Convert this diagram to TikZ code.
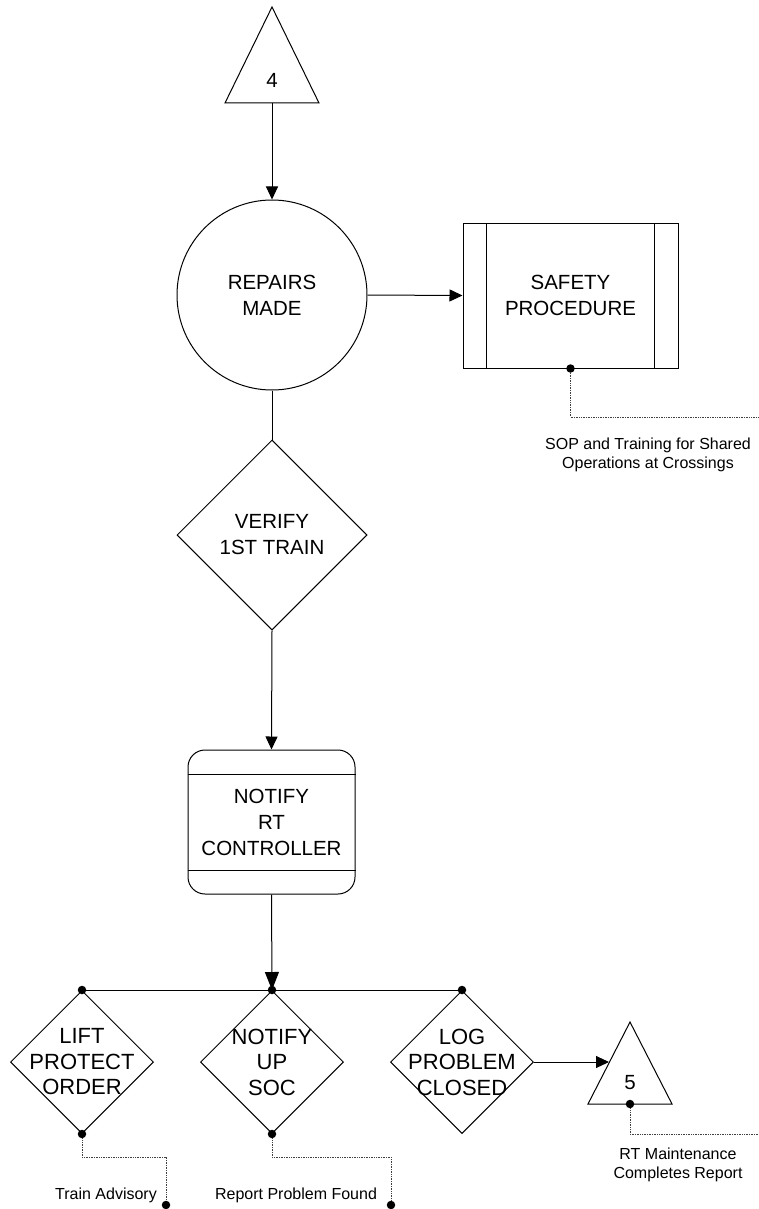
\documentclass[tikz,border=0pt]{standalone}
\usepackage{fontspec}
\setmainfont{Liberation Sans}
\usetikzlibrary{shapes.geometric,arrows.meta}
\begin{document}
\begin{tikzpicture}[x=1pt,y=-1pt,
  line/.style={line width=1pt},
  flow/.style={line width=1pt,-{Triangle[length=13pt,width=12pt]}},
  note/.style={black!75,line width=0.7pt,densely dotted},
  dot/.style={circle,fill,inner sep=0pt,minimum size=8.5pt},
  big/.style={font=\fontsize{20.5}{26}\selectfont,align=center},
  mid/.style={font=\fontsize{22}{25.5}\selectfont,align=center},
  small/.style={font=\fontsize{16}{19.5}\selectfont,align=center},
  dia/.style={draw,diamond,line width=1pt,inner sep=0pt,minimum width=#1,minimum height=#1},
]
\useasboundingbox (0,0) rectangle (759,1209);

% off-page connector 4
\draw[line] (225,103) -- (272,7) -- (319,103) -- cycle;
\node[big] (t4) at (272,80) {4};
\coordinate (t4base) at (272,103);

% repairs made
\node[draw,circle,line width=1pt,inner sep=0pt,minimum size=190,
      label={[big]center:REPAIRS\\MADE}] (repairs) at (272,295) {};
\draw[flow] (t4base) -- (repairs.north);

% safety procedure (predefined process)
\node[draw,line width=1pt,minimum width=215,minimum height=145,big] (safety) at (570.5,295.5) {SAFETY\\PROCEDURE};
\draw[line] ([xshift=24pt]safety.north west) -- ([xshift=24pt]safety.south west);
\draw[line] ([xshift=-24pt]safety.north east) -- ([xshift=-24pt]safety.south east);
\draw[flow] (repairs.east) -- (safety.west);
\node[dot] (sdot) at (safety.south) {};
\coordinate (sedge) at (759,417);
\draw[note] (sdot) |- (sedge);
\node[small] (sop) at (648,455) {SOP and Training for Shared\\Operations at Crossings};

% verify first train
\node[dia=190,label={[big]center:VERIFY\\1ST TRAIN}] (verify) at (272,535) {};
\draw[line] (repairs.south) -- (verify.north);

% notify RT controller
\node[draw,line width=1pt,rounded corners=17pt,minimum width=167,minimum height=144,big] (notify) at (271.5,822) {NOTIFY\\RT\\CONTROLLER};
\draw[line] ([yshift=-25pt]notify.north west) -- ([yshift=-25pt]notify.north east);
\draw[line] ([yshift=24pt]notify.south west) -- ([yshift=24pt]notify.south east);
\draw[flow] (verify.south) -- (notify.north);

% distribution bus
\node[dot] (b1) at (82,990) {};
\node[dot] (b2) at (272,990) {};
\node[dot] (b3) at (462,990) {};
\draw[line] (b1.center) -- (b3.center);
\draw[line width=1pt,-{Triangle[length=18pt,width=14pt]}] (notify.south) -- (b2.center);

% three parallel decisions
\node[dia=143,label={[mid]center:LIFT\\PROTECT\\ORDER}] (lift) at (82,1062) {};
\node[dia=143,label={[mid]center:NOTIFY\\UP\\SOC}] (soc) at (272,1062) {};
\node[dia=143,label={[mid]center:LOG\\PROBLEM\\CLOSED}] (log) at (462,1062) {};

% outputs of the decisions
\node[dot] (ldot) at (lift.south) {};
\coordinate (lbend) at (82,1157);
\node[dot] (lend) at (166,1205) {};
\draw[note] (ldot) -- (lbend) -| (lend);
\node[small,anchor=base] (adv) at (106,1199) {Train Advisory};

\node[dot] (sdot2) at (soc.south) {};
\coordinate (sbend) at (272,1157);
\node[dot] (send) at (391,1205) {};
\draw[note] (sdot2) -- (sbend) -| (send);
\node[small,anchor=base] (rep) at (296,1199) {Report Problem Found};

% off-page connector 5
\draw[line] (588,1104) -- (630,1022) -- (672,1104) -- cycle;
\node[big] (t5) at (630,1083) {5};
\coordinate (t5in) at (609,1062);
\draw[flow] (log.east) -- (t5in);
\node[dot] (t5dot) at (630,1104) {};
\coordinate (t5edge) at (759,1134);
\draw[note] (t5dot) |- (t5edge);
\node[small] (rtm) at (678,1165) {RT Maintenance\\Completes Report};
\end{tikzpicture}
\end{document}
